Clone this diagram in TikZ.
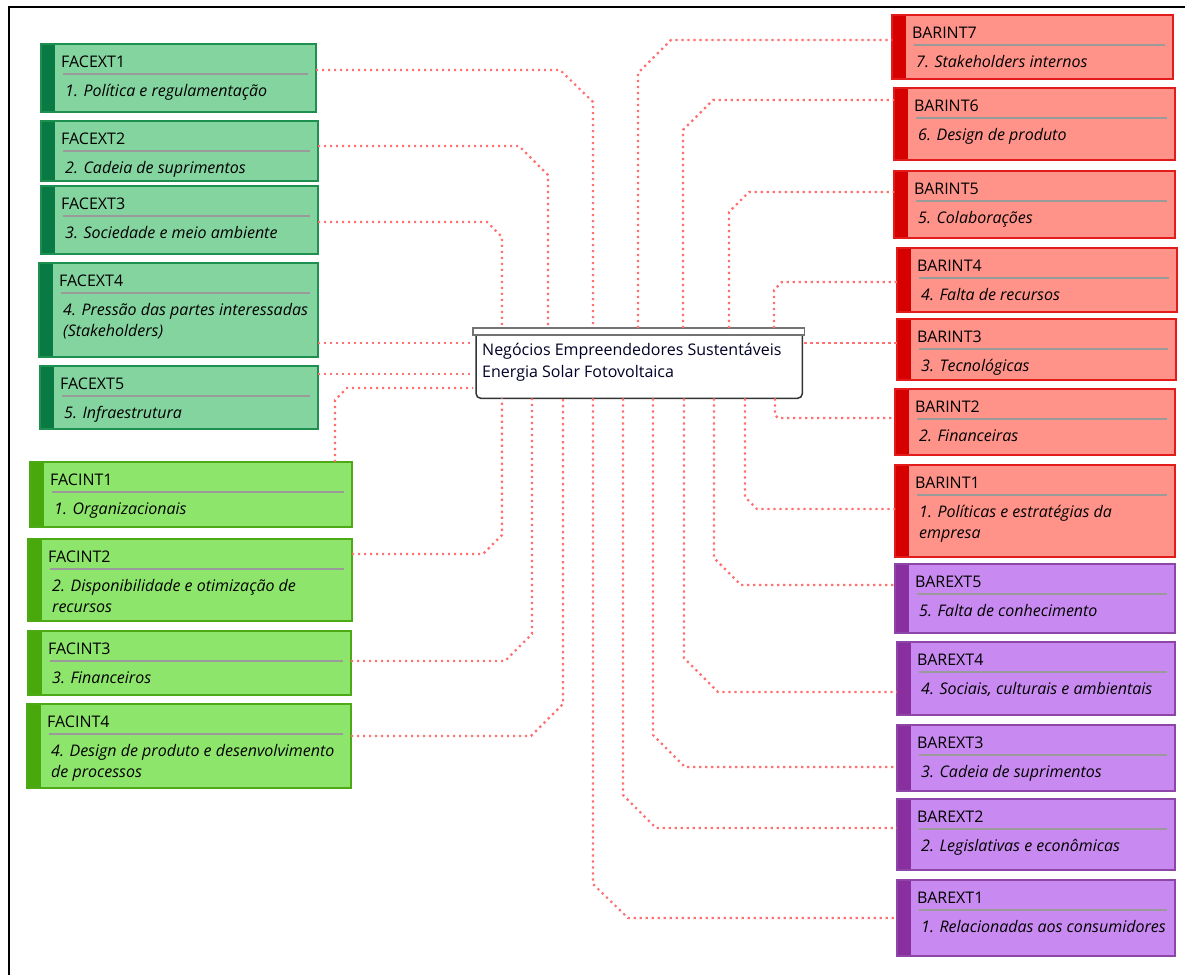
\documentclass[tikz,border=0pt]{standalone}
\usepackage{fontspec}
\setmainfont{Open Sans}
\usetikzlibrary{calc}
\definecolor{gAfill}{HTML}{84D4A0}
\definecolor{gAline}{HTML}{1D8F4F}
\definecolor{gAbar}{HTML}{0A7A44}
\definecolor{gBfill}{HTML}{8DE66B}
\definecolor{gBline}{HTML}{4DAA16}
\definecolor{gBbar}{HTML}{48A80C}
\definecolor{rfill}{HTML}{FF938A}
\definecolor{rline}{HTML}{E31B1B}
\definecolor{rbar}{HTML}{D70000}
\definecolor{pfill}{HTML}{C88AF0}
\definecolor{pline}{HTML}{8E45A8}
\definecolor{pbar}{HTML}{8A2F9F}
\definecolor{connc}{HTML}{FF7070}
\definecolor{txt}{HTML}{000000}
\definecolor{septc}{HTML}{9A9A9A}
\newcommand\mycard[9]{%
  \node[cardbox, #2, minimum width={#5-#3}, minimum height={#6-#4}] (#1) at (#3,#4) {};
  \draw[sepline] ([xshift=22,yshift=-30]#1.north west) -- ([xshift=-8,yshift=-30]#1.north east);
  \node[ttl] (#1t) at ([xshift=20,yshift=-23]#1.north west) {#7};
  \node[subt] (#1s) at ([xshift=24,yshift=-52]#1.north west) {#8};
  \node[subt] (#1u) at ([xshift=24,yshift=-73]#1.north west) {#9};
}
\tikzset{
  x=1pt, y=-1pt,
  cardbox/.style={anchor=north west, inner sep=0pt, outer sep=0pt, line width=1.2pt},
  gA/.style={fill=gAfill, draw=gAline, path picture={\fill[gAbar] (path picture bounding box.north west) rectangle ([xshift=14pt]path picture bounding box.south west);}},
  gB/.style={fill=gBfill, draw=gBline, path picture={\fill[gBbar] (path picture bounding box.north west) rectangle ([xshift=14pt]path picture bounding box.south west);}},
  rC/.style={fill=rfill, draw=rline, path picture={\fill[rbar] (path picture bounding box.north west) rectangle ([xshift=14pt]path picture bounding box.south west);}},
  pC/.style={fill=pfill, draw=pline, path picture={\fill[pbar] (path picture bounding box.north west) rectangle ([xshift=14pt]path picture bounding box.south west);}},
  sepline/.style={draw=septc, line width=1.3pt},
  ttl/.style={anchor=base west, inner sep=0pt, text=txt, font=\fontsize{16}{19}\selectfont},
  subt/.style={anchor=base west, inner sep=0pt, text=txt, font=\fontsize{16}{19}\selectfont\itshape},
  conn/.style={draw=connc, line width=2.2pt, dash pattern=on 2.2pt off 3.8pt},
}
\begin{document}
\begin{tikzpicture}
\useasboundingbox (0,0) rectangle (1185,974);
\fill[white] (0,0) rectangle (1185,974);
\draw[line width=2pt, black] (9,7) rectangle (1200,990);

% central node
\node[anchor=north west, inner sep=0pt, minimum width=331, minimum height=70] (c) at (473,328) {};
\draw[fill=white, draw=black!80, line width=1.5pt, rounded corners=5pt]
  ([xshift=3,yshift=-7]c.north west) -- ([xshift=3]c.south west) -- ([xshift=-2]c.south east) -- ([xshift=-2,yshift=-7]c.north east);
\draw[fill=white, draw=black!55, line width=1.3pt] (c.north west) rectangle ([yshift=-7]c.north east);
\node[ttl, text=black!85!blue] (c1) at (482,355) {Negócios Empreendedores Sustentáveis};
\node[ttl, text=black!85!blue] (c2) at (482,377) {Energia Solar Fotovoltaica};

% left cards
\mycard{fe1}{gA}{41}{44}{316}{112}{FACEXT1}{1. Política e regulamentação}{}
\mycard{fe2}{gA}{41}{121}{318}{181}{FACEXT2}{2. Cadeia de suprimentos}{}
\mycard{fe3}{gA}{41}{186}{318}{254}{FACEXT3}{3. Sociedade e meio ambiente}{}
\mycard{fe4}{gA}{39}{263}{318}{357}{FACEXT4}{4. Pressão das partes interessadas}{(Stakeholders)}
\mycard{fe5}{gA}{40}{366}{318}{429}{FACEXT5}{5. Infraestrutura}{}
\mycard{fi1}{gB}{30}{462}{352}{527}{FACINT1}{1. Organizacionais}{}
\mycard{fi2}{gB}{28}{539}{352}{621}{FACINT2}{2. Disponibilidade e otimização de}{recursos}
\mycard{fi3}{gB}{28}{631}{351}{695}{FACINT3}{3. Financeiros}{}
\mycard{fi4}{gB}{27}{704}{351}{788}{FACINT4}{4. Design de produto e desenvolvimento}{de processos}

% right cards
\mycard{bi7}{rC}{892}{15}{1173}{79}{BARINT7}{7. Stakeholders internos}{}
\mycard{bi6}{rC}{894}{88}{1175}{160}{BARINT6}{6. Design de produto}{}
\mycard{bi5}{rC}{894}{171}{1175}{238}{BARINT5}{5. Colaborações}{}
\mycard{bi4}{rC}{897}{248}{1177}{312}{BARINT4}{4. Falta de recursos}{}
\mycard{bi3}{rC}{897}{319}{1176}{380}{BARINT3}{3. Tecnológicas}{}
\mycard{bi2}{rC}{895}{389}{1175}{455}{BARINT2}{2. Financeiras}{}
\mycard{bi1}{rC}{895}{465}{1175}{557}{BARINT1}{1. Políticas e estratégias da}{empresa}
\mycard{be5}{pC}{895}{564}{1175}{633}{BAREXT5}{5. Falta de conhecimento}{}
\mycard{be4}{pC}{897}{642}{1175}{715}{BAREXT4}{4. Sociais, culturais e ambientais}{}
\mycard{be3}{pC}{897}{725}{1175}{791}{BAREXT3}{3. Cadeia de suprimentos}{}
\mycard{be2}{pC}{897}{799}{1175}{870}{BAREXT2}{2. Legislativas e econômicas}{}
\mycard{be1}{pC}{897}{880}{1175}{956}{BAREXT1}{1. Relacionadas aos consumidores}{}

% connectors, left
\draw[conn] (fe1.east |- 0,70) -- (560,70) -- (593,102) -- (593,0 |- c.north);
\draw[conn] (fe2.east |- 0,146) -- (519,146) -- (548,175) -- (548,0 |- c.north);
\draw[conn] (fe3.east |- 0,222) -- (487,222) -- (502,237) -- (502,0 |- c.north);
\draw[conn] (fe4.east |- 0,343) -- (c.west |- 0,343);
\draw[conn] (fe5.east |- 0,374) -- (c.west |- 0,374);
\draw[conn] (335,0 |- fi1.north) -- (335,400) -- (347,388) -- (c.west |- 0,388);
\draw[conn] (fi2.east |- 0,554) -- (483,554) -- (502,535) -- (502,0 |- c.south);
\draw[conn] (fi3.east |- 0,661) -- (505,661) -- (532,634) -- (532,0 |- c.south);
\draw[conn] (fi4.east |- 0,736) -- (531,736) -- (563,704) -- (563,0 |- c.south);

% connectors, right
\draw[conn] (638,0 |- c.north) -- (638,73) -- (671,40) -- (bi7.west |- 0,40);
\draw[conn] (683,0 |- c.north) -- (683,130) -- (713,100) -- (bi6.west |- 0,100);
\draw[conn] (729,0 |- c.north) -- (729,212) -- (749,192) -- (bi5.west |- 0,192);
\draw[conn] (774,0 |- c.north) -- (774,290) -- (782,282) -- (bi4.west |- 0,282);
\draw[conn] (c.east |- 0,343) -- (bi3.west |- 0,343);
\draw[conn] (775,0 |- c.south) -- (775,415) -- (778,418) -- (bi2.west |- 0,418);
\draw[conn] (745,0 |- c.south) -- (745,497) -- (757,509) -- (bi1.west |- 0,509);
\draw[conn] (714,0 |- c.south) -- (714,558) -- (741,585) -- (be5.west |- 0,585);
\draw[conn] (684,0 |- c.south) -- (684,658) -- (718,692) -- (be4.west |- 0,692);
\draw[conn] (653,0 |- c.south) -- (653,735) -- (685,767) -- (be3.west |- 0,767);
\draw[conn] (623,0 |- c.south) -- (623,795) -- (656,828) -- (be2.west |- 0,828);
\draw[conn] (593,0 |- c.south) -- (593,884) -- (628,918) -- (be1.west |- 0,918);
\end{tikzpicture}
\end{document}
